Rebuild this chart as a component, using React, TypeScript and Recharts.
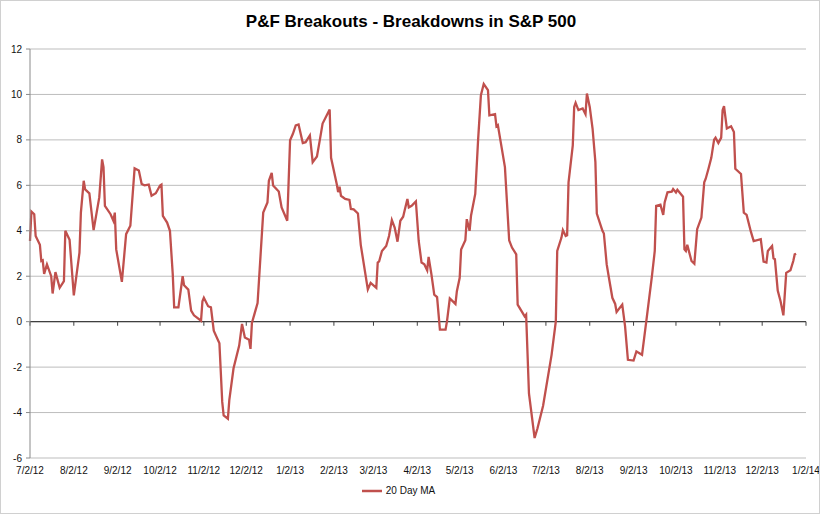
import { CartesianGrid, Legend, Line, LineChart, ReferenceLine, XAxis, YAxis } from 'recharts'

// trading dates (turning points of the 20 day moving average)
const dates = [
  '2012-07-02', '2012-07-03', '2012-07-05', '2012-07-06', '2012-07-09', '2012-07-10', '2012-07-11', '2012-07-12',
  '2012-07-14', '2012-07-17', '2012-07-18', '2012-07-20', '2012-07-23', '2012-07-26', '2012-07-27', '2012-07-30',
  '2012-08-02', '2012-08-06', '2012-08-07', '2012-08-09', '2012-08-10', '2012-08-13', '2012-08-16', '2012-08-20',
  '2012-08-22', '2012-08-23', '2012-08-24', '2012-08-28', '2012-08-30', '2012-08-31', '2012-09-01', '2012-09-05',
  '2012-09-08', '2012-09-11', '2012-09-14', '2012-09-17', '2012-09-19', '2012-09-21', '2012-09-24', '2012-09-26',
  '2012-09-29', '2012-10-02', '2012-10-03', '2012-10-04', '2012-10-07', '2012-10-09', '2012-10-11', '2012-10-12',
  '2012-10-15', '2012-10-18', '2012-10-19', '2012-10-22', '2012-10-24', '2012-10-26', '2012-10-31', '2012-11-01',
  '2012-11-02', '2012-11-05', '2012-11-07', '2012-11-09', '2012-11-13', '2012-11-15', '2012-11-16', '2012-11-19',
  '2012-11-20', '2012-11-23', '2012-11-27', '2012-11-29', '2012-12-01', '2012-12-04', '2012-12-05', '2012-12-06',
  '2012-12-10', '2012-12-14', '2012-12-17', '2012-12-18', '2012-12-20', '2012-12-21', '2012-12-25', '2012-12-27',
  '2012-12-31', '2013-01-02', '2013-01-04', '2013-01-06', '2013-01-08', '2013-01-11', '2013-01-13', '2013-01-16',
  '2013-01-18', '2013-01-21', '2013-01-23', '2013-01-25', '2013-01-30', '2013-01-31', '2013-02-04', '2013-02-05',
  '2013-02-06', '2013-02-07', '2013-02-10', '2013-02-13', '2013-02-14', '2013-02-16', '2013-02-19', '2013-02-21',
  '2013-02-26', '2013-02-28', '2013-03-04', '2013-03-05', '2013-03-06', '2013-03-08', '2013-03-11', '2013-03-13',
  '2013-03-15', '2013-03-17', '2013-03-19', '2013-03-21', '2013-03-23', '2013-03-24', '2013-03-26', '2013-03-27',
  '2013-03-29', '2013-04-01', '2013-04-03', '2013-04-05', '2013-04-07', '2013-04-09', '2013-04-10', '2013-04-12',
  '2013-04-14', '2013-04-16', '2013-04-18', '2013-04-22', '2013-04-23', '2013-04-25', '2013-04-29', '2013-04-30',
  '2013-05-02', '2013-05-03', '2013-05-06', '2013-05-07', '2013-05-09', '2013-05-10', '2013-05-13', '2013-05-15',
  '2013-05-17', '2013-05-19', '2013-05-22', '2013-05-23', '2013-05-27', '2013-05-28', '2013-05-29', '2013-06-03',
  '2013-06-06', '2013-06-08', '2013-06-11', '2013-06-12', '2013-06-17', '2013-06-18', '2013-06-20', '2013-06-24',
  '2013-06-26', '2013-06-30', '2013-07-06', '2013-07-09', '2013-07-10', '2013-07-13', '2013-07-14', '2013-07-16',
  '2013-07-17', '2013-07-18', '2013-07-21', '2013-07-22', '2013-07-23', '2013-07-25', '2013-07-28', '2013-07-30',
  '2013-07-31', '2013-08-02', '2013-08-04', '2013-08-06', '2013-08-07', '2013-08-11', '2013-08-12', '2013-08-14',
  '2013-08-16', '2013-08-18', '2013-08-20', '2013-08-21', '2013-08-25', '2013-08-27', '2013-08-29', '2013-09-02',
  '2013-09-04', '2013-09-05', '2013-09-08', '2013-09-11', '2013-09-15', '2013-09-17', '2013-09-18', '2013-09-21',
  '2013-09-23', '2013-09-24', '2013-09-26', '2013-09-29', '2013-09-30', '2013-10-02', '2013-10-03', '2013-10-07',
  '2013-10-08', '2013-10-09', '2013-10-10', '2013-10-13', '2013-10-15', '2013-10-17', '2013-10-20', '2013-10-22',
  '2013-10-23', '2013-10-25', '2013-10-27', '2013-10-29', '2013-10-30', '2013-11-01', '2013-11-03', '2013-11-04',
  '2013-11-05', '2013-11-07', '2013-11-10', '2013-11-12', '2013-11-13', '2013-11-17', '2013-11-19', '2013-11-21',
  '2013-11-24', '2013-11-26', '2013-12-01', '2013-12-03', '2013-12-05', '2013-12-06', '2013-12-09', '2013-12-10',
  '2013-12-11', '2013-12-13', '2013-12-15', '2013-12-17', '2013-12-19', '2013-12-22', '2013-12-24', '2013-12-25',
  '2013-12-26',
]

const ma20 = [
  3.55, 4.85, 4.73, 3.77, 3.38, 2.67, 2.7, 2.1,
  2.52, 2.0, 1.24, 2.18, 1.49, 1.78, 4.0, 3.6,
  1.16, 3.04, 4.8, 6.2, 5.82, 5.65, 4.03, 5.47,
  7.14, 6.8, 5.1, 4.73, 4.44, 4.8, 3.18, 1.75,
  3.85, 4.22, 6.75, 6.65, 6.06, 6.0, 6.03, 5.54,
  5.65, 5.99, 6.03, 4.66, 4.36, 4.0, 2.08, 0.63,
  0.63, 2.0, 1.6, 1.41, 0.49, 0.28, 0.04, 0.9,
  1.05, 0.68, 0.63, -0.4, -0.95, -3.53, -4.12, -4.27,
  -3.45, -2.05, -1.05, -0.1, -0.7, -0.8, -1.2, -0.06,
  0.82, 4.8, 5.25, 6.2, 6.55, 5.99, 5.73, 5.03,
  4.44, 7.98, 8.27, 8.64, 8.68, 7.86, 7.9, 8.2,
  7.02, 7.27, 7.98, 8.72, 9.34, 7.21, 6.06, 5.7,
  5.94, 5.54, 5.4, 5.36, 4.96, 4.94, 4.76, 3.38,
  1.42, 1.71, 1.49, 2.6, 2.65, 3.11, 3.33, 3.77,
  4.47, 4.14, 3.52, 4.44, 4.62, 4.88, 5.4, 5.03,
  5.1, 5.29, 3.55, 2.6, 2.52, 2.26, 2.85, 2.08,
  1.19, 1.08, -0.35, -0.35, 0.01, 1.02, 0.78, 1.34,
  1.93, 3.18, 3.58, 4.51, 4.0, 4.66, 5.62, 7.98,
  9.97, 10.46, 10.19, 9.08, 9.13, 8.6, 8.65, 6.8,
  3.58, 3.26, 2.96, 0.75, 0.23, 0.31, -3.16, -5.12,
  -4.7, -3.7, -1.46, 0.01, 3.11, 3.7, 4.03, 3.77,
  3.8, 6.13, 7.76, 9.45, 9.63, 9.31, 9.38, 9.13,
  10.04, 9.45, 8.5, 7.02, 4.76, 4.0, 3.88, 2.52,
  1.78, 1.05, 0.78, 0.43, 0.75, -0.21, -1.68, -1.71,
  -1.31, -1.35, -1.46, 0.01, 2.0, 3.11, 5.1, 5.15,
  4.7, 5.25, 5.69, 5.72, 5.84, 5.69, 5.8, 5.5,
  3.18, 3.11, 3.38, 2.67, 2.55, 4.07, 4.58, 6.13,
  6.28, 6.73, 7.21, 8.01, 8.1, 7.86, 8.1, 9.31,
  9.48, 8.5, 8.6, 8.35, 6.73, 6.5, 4.8, 4.7,
  3.96, 3.55, 3.63, 2.64, 2.6, 3.11, 3.33, 2.79,
  2.75, 1.37, 0.9, 0.28, 2.15, 2.26, 2.67, 2.96,
  2.99,
]

const monthTicks = [
  '2012-07-02', '2012-08-02', '2012-09-02', '2012-10-02', '2012-11-02', '2012-12-02', '2013-01-02',
  '2013-02-02', '2013-03-02', '2013-04-02', '2013-05-02', '2013-06-02', '2013-07-02', '2013-08-02',
  '2013-09-02', '2013-10-02', '2013-11-02', '2013-12-02', '2014-01-02',
]

const yTicks = [-6, -4, -2, 0, 2, 4, 6, 8, 10, 12]

const LINE_COLOR = '#c0504d'
const FONT = '"Liberation Sans", Arial, sans-serif'

const chartData = dates.map((d, i) => ({ t: Date.parse(d), value: ma20[i] }))
const tickTimes = monthTicks.map((d) => Date.parse(d))

// m/d/yy like the original Excel axis
function formatDate(t: number) {
  const d = new Date(t)
  return `${d.getUTCMonth() + 1}/${d.getUTCDate()}/${String(d.getUTCFullYear()).slice(2)}`
}

export default function App() {
  return (
    <div
      style={{
        position: 'absolute',
        left: 0,
        top: 0,
        width: 820,
        height: 514,
        background: '#fff',
        boxSizing: 'border-box',
        border: '1px solid #d0d0d0',
        fontFamily: FONT,
      }}
    >
      <div
        style={{
          position: 'absolute',
          top: 11,
          left: 0,
          width: 820,
          textAlign: 'center',
          fontSize: 17,
          fontWeight: 'bold',
          color: '#000',
        }}
      >
        P&amp;F Breakouts - Breakdowns in S&amp;P 500
      </div>
      <LineChart
        width={818}
        height={512}
        data={chartData}
        margin={{ top: 48, right: 13, left: 0, bottom: 15 }}
        style={{ position: 'absolute', left: 0, top: 0 }}
      >
        <CartesianGrid vertical={false} stroke="#bdbdbd" strokeWidth={1} />
        <XAxis
          dataKey="t"
          type="number"
          scale="time"
          domain={[tickTimes[0], tickTimes[tickTimes.length - 1]]}
          ticks={tickTimes}
          tickFormatter={formatDate}
          axisLine={false}
          tickLine={false}
          tickSize={0}
          tickMargin={9}
          height={20}
          interval={0}
          tick={{ fontSize: 10, fill: '#111', fontFamily: FONT }}
        />
        <YAxis
          domain={[-6, 12]}
          ticks={yTicks}
          interval={0}
          width={29}
          axisLine={{ stroke: '#8a8a8a' }}
          tickLine={{ stroke: '#8a8a8a' }}
          tickSize={4}
          tickMargin={4}
          tick={{ fontSize: 10, fill: '#111', fontFamily: FONT }}
        />
        <ReferenceLine y={0} stroke="#404040" strokeWidth={1.2} />
        {tickTimes.map((t) => (
          <ReferenceLine
            key={t}
            segment={[
              { x: t, y: 0 },
              { x: t, y: -0.18 },
            ]}
            stroke="#404040"
            strokeWidth={1}
          />
        ))}
        <Legend
          verticalAlign="bottom"
          align="center"
          iconSize={20}
          wrapperStyle={{ fontSize: 10, fontFamily: FONT, bottom: 12 }}
          formatter={(value: string) => <span style={{ color: '#111' }}>{value}</span>}
        />
        <Line
          type="linear"
          dataKey="value"
          name="20 Day MA"
          stroke={LINE_COLOR}
          strokeWidth={2.3}
          dot={false}
          legendType="plainline"
          isAnimationActive={false}
        />
      </LineChart>
    </div>
  )
}
